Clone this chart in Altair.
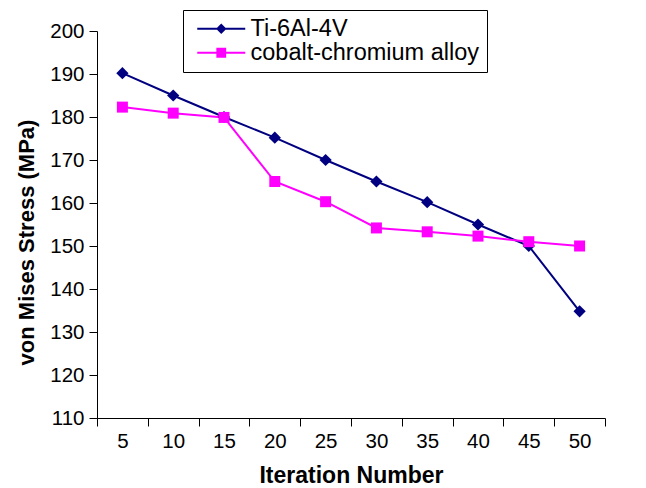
import altair as alt
import pandas as pd

iterations = [5, 10, 15, 20, 25, 30, 35, 40, 45, 50]
ti_values = [190.2, 185, 180, 175.2, 170, 165, 160.2, 155, 150, 134.8]
co_values = [182.3, 180.9, 179.9, 165, 160.3, 154.2, 153.3, 152.3, 151, 150]
series_names = ["Ti-6Al-4V", "cobalt-chromium alloy"]
series_colors = ["#000080", "#FF00FF"]
x_tick_values = [2.5, 7.5, 12.5, 17.5, 22.5, 27.5, 32.5, 37.5, 42.5, 47.5, 52.5]
y_tick_values = [110, 120, 130, 140, 150, 160, 170, 180, 190, 200]

rows = []
for it, v in zip(iterations, ti_values):
    rows.append({"iter": it, "stress": v, "series": series_names[0]})
for it, v in zip(iterations, co_values):
    rows.append({"iter": it, "stress": v, "series": series_names[1]})
df = pd.DataFrame(rows)

FONT = "Liberation Sans"

xscale = alt.Scale(domain=[2.5, 52.5], nice=False, zero=False)
yscale = alt.Scale(domain=[110, 200], nice=False, zero=False)
cscale = alt.Scale(domain=series_names, range=series_colors)

y_axis = alt.Axis(
    values=y_tick_values, grid=False, tickSize=8, tickColor="black", domainColor="black",
    labelFontSize=20.5, labelFont=FONT, labelColor="black", labelPadding=5,
    title="von Mises Stress (MPa)", titleFont=FONT, titleFontSize=22, titleFontWeight="bold",
    titleColor="black", titleX=-64, titleY=211, titleBaseline="alphabetic",
)

tick_axis = alt.Axis(
    orient="bottom", values=x_tick_values, labels=False, grid=False, tickSize=8,
    tickColor="black", domainColor="black", title=None,
)

label_axis = alt.Axis(
    orient="bottom", values=iterations, ticks=False, domain=False, grid=False, tickSize=0,
    labelFontSize=20.5, labelFont=FONT, labelColor="black", labelPadding=13,
    title="Iteration Number", titleFont=FONT, titleFontSize=23, titleFontWeight="bold",
    titleColor="black", titleY=64, titleBaseline="alphabetic",
)

base = alt.Chart(df)

lines = base.mark_line(strokeWidth=2).encode(
    x=alt.X("iter:Q", scale=xscale, axis=tick_axis),
    y=alt.Y("stress:Q", scale=yscale, axis=y_axis),
    color=alt.Color("series:N", scale=cscale, legend=None),
)

points = base.mark_point(filled=True, opacity=1).encode(
    x=alt.X("iter:Q", scale=xscale, axis=label_axis),
    y=alt.Y("stress:Q", scale=yscale, axis=y_axis),
    color=alt.Color("series:N", scale=cscale, legend=None),
    shape=alt.Shape("series:N", scale=alt.Scale(domain=series_names, range=["diamond", "square"]), legend=None),
    size=alt.Size("series:N", scale=alt.Scale(domain=series_names, range=[150, 121]), legend=None),
)

ti_legend_path = "M-1.125,-0.25L10.875,-0.25L10.875,0.25L-1.125,0.25Z M4.875,-1.3L6.175,0L4.875,1.3L3.575,0Z"
co_legend_path = "M-1.125,-0.25L10.875,-0.25L10.875,0.25L-1.125,0.25Z M3.65,-1.25L6.1,-1.25L6.1,1.25L3.65,1.25Z"

legend_def = alt.Legend(
    title=None, orient="none", legendX=86, legendY=-21, padding=7,
    strokeColor="black", fillColor="white", symbolSize=64, symbolOpacity=1,
    labelFont=FONT, labelFontSize=23.5, labelColor="black", labelOffset=37, labelLimit=0,
    rowPadding=-1,
)

legend_layer = base.mark_point(filled=True, opacity=0).transform_filter("false").encode(
    x=alt.X("iter:Q", scale=xscale, axis=None),
    y=alt.Y("stress:Q", scale=yscale, axis=y_axis),
    color=alt.Color("series:N", scale=cscale, legend=legend_def),
    shape=alt.Shape("series:N", scale=alt.Scale(domain=series_names, range=[ti_legend_path, co_legend_path]), legend=legend_def),
)

chart = alt.layer(lines, points, legend_layer).resolve_scale(
    color="independent", shape="independent"
).resolve_axis(x="independent").properties(
    width=508, height=387,
    autosize=alt.AutoSizeParams(type="none"),
    padding={"left": 97, "top": 31, "right": 41, "bottom": 70},
    background="white",
).configure_view(stroke=None)

chart.save("out.html", embed_options={"renderer": "svg", "actions": False})
